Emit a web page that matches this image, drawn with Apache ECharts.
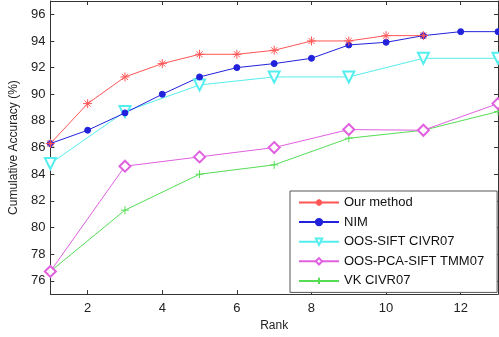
<!DOCTYPE html>
<html>
<head>
<meta charset="utf-8">
<script src="https://cdn.jsdelivr.net/npm/echarts@6/dist/echarts.min.js"></script>
<style>
  html, body { margin: 0; padding: 0; background: #fff; }
  #chart { width: 499px; height: 337px; }
</style>
</head>
<body>
<div id="chart"></div>
<script>
// ranks
const ranksAll = [1, 2, 3, 4, 5, 6, 7, 8, 9, 10, 11, 12, 13];
const ranksOdd = [1, 3, 5, 7, 9, 11, 13];

// series values
const ourMethod = [86.3, 89.3, 91.3, 92.3, 93.0, 93.0, 93.3, 94.0, 94.0, 94.4, 94.4];
const nim = [86.3, 87.3, 88.6, 90.0, 91.3, 92.0, 92.3, 92.7, 93.7, 93.9, 94.4, 94.7, 94.7];
const oosSift = [84.8, 88.7, 90.7, 91.3, 91.3, 92.7, 92.7];
const oosPcaSift = [76.7, 84.6, 85.3, 86.0, 87.35, 87.3, 89.3];
const vk = [76.7, 81.3, 84.0, 84.7, 86.7, 87.3, 88.7];

const xTicks = [2, 4, 6, 8, 10, 12];
const yTicks = [76, 78, 80, 82, 84, 86, 88, 90, 92, 94, 96];

const FONT = 'Liberation Sans, Arial, sans-serif';

function pairs(xs, ys) {
    return ys.map((y, i) => [xs[i], y]);
}

const starPath = 'path://M5 0 L5 10 M0 5 L10 5 M1.6 1.6 L8.4 8.4 M8.4 1.6 L1.6 8.4';
const plusPath = 'path://M5 0 L5 10 M0 5 L10 5';

function mkSeries(name, data, color, symbol, size, extra) {
    return Object.assign({
        name: name,
        type: 'line',
        data: data,
        symbol: symbol,
        symbolSize: size,
        lineStyle: { color: color, width: 1 },
        itemStyle: { color: color, borderColor: color, borderWidth: 1 },
        emphasis: { disabled: true },
        animation: false
    }, extra || {});
}

const chart = echarts.init(document.getElementById('chart'));

const axisLine = { show: true, lineStyle: { color: '#333', width: 1 } };

chart.setOption({
    backgroundColor: '#fff',
    grid: { left: 50, right: 1, top: 1, bottom: 39 },
    xAxis: [{
        type: 'value',
        min: 1,
        max: 13,
        name: 'Rank',
        nameLocation: 'middle',
        nameGap: 21,
        nameTextStyle: { fontFamily: FONT, fontSize: 12, color: '#222', verticalAlign: 'top' },
        axisLine: axisLine,
        axisTick: { show: true, inside: true, length: 4, customValues: xTicks, lineStyle: { color: '#333' } },
        axisLabel: { customValues: xTicks, fontFamily: FONT, fontSize: 13, color: '#222', margin: 8 },
        splitLine: { show: false }
    }, {
        type: 'value',
        position: 'top',
        min: 1,
        max: 13,
        axisLine: axisLine,
        axisTick: { show: true, inside: true, length: 4, customValues: xTicks, lineStyle: { color: '#333' } },
        axisLabel: { show: false },
        splitLine: { show: false }
    }],
    yAxis: [{
        type: 'value',
        min: 75,
        max: 97,
        name: 'Cumulative Accuracy (%)',
        nameLocation: 'middle',
        nameGap: 25,
        nameTextStyle: { fontFamily: FONT, fontSize: 12, color: '#222' },
        axisLine: axisLine,
        axisTick: { show: true, inside: true, length: 4, customValues: yTicks, lineStyle: { color: '#333' } },
        axisLabel: { customValues: yTicks, fontFamily: FONT, fontSize: 13, color: '#222', margin: 5 },
        splitLine: { show: false }
    }, {
        type: 'value',
        position: 'right',
        min: 75,
        max: 97,
        axisLine: axisLine,
        axisTick: { show: true, inside: true, length: 4, customValues: yTicks, lineStyle: { color: '#333' } },
        axisLabel: { show: false },
        splitLine: { show: false }
    }],
    legend: {
        orient: 'vertical',
        left: 290,
        top: 191,
        backgroundColor: '#fff',
        borderColor: '#555',
        borderWidth: 1,
        borderRadius: 0,
        padding: [5, 13, 5, 8],
        itemWidth: 40,
        itemHeight: 8,
        itemGap: 6.6,
        textStyle: { fontFamily: FONT, fontSize: 13, color: '#111' },
        data: ['Our method', 'NIM', 'OOS-SIFT CIVR07', 'OOS-PCA-SIFT TMM07', 'VK CIVR07']
    },
    series: [
        mkSeries('VK CIVR07', pairs(ranksOdd, vk), '#55dd55', plusPath, 8),
        mkSeries('OOS-PCA-SIFT TMM07', pairs(ranksOdd, oosPcaSift), '#e060e0', 'emptyDiamond', 11),
        mkSeries('OOS-SIFT CIVR07', pairs(ranksOdd, oosSift), '#55eeee', 'emptyTriangle', 11, { symbolRotate: 180 }),
        mkSeries('NIM', pairs(ranksAll, nim), '#2222dd', 'circle', 6),
        mkSeries('Our method', pairs(ranksAll, ourMethod), '#ff5555', starPath, 9)
    ]
});
</script>
</body>
</html>
